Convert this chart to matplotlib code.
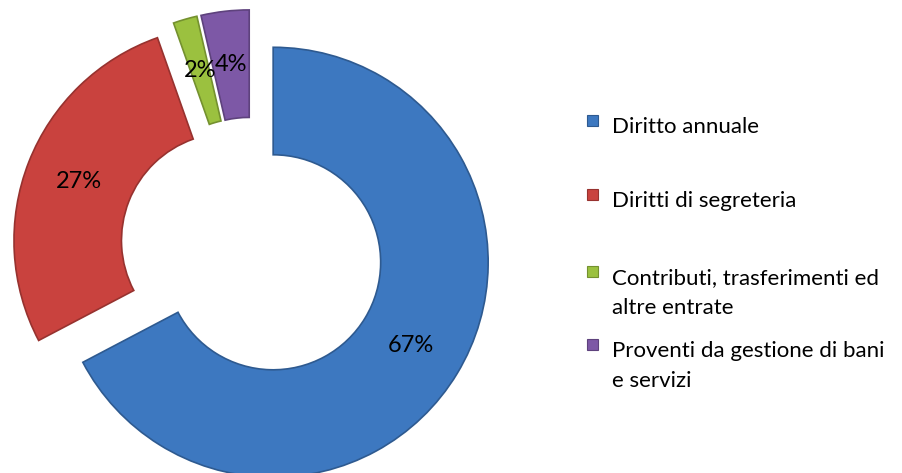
import matplotlib
matplotlib.use("Agg")
from matplotlib import pyplot as plt
from matplotlib.patches import Rectangle
from matplotlib.colors import to_rgb

categories = ["Diritto annuale",
              "Diritti di segreteria",
              "Contributi, trasferimenti ed\naltre entrate",
              "Proventi da gestione di bani\ne servizi"]
# shares (labels show 67, 27, 2, 4)
values = [67.3, 27.3, 1.8, 3.6]
colors = ["#3d78c0", "#c9423e", "#9bc13f", "#7d58a6"]

plt.rcParams['font.family'] = ['Lato', 'DejaVu Sans']


def darker(c, f=0.75):
    r, g, b = to_rgb(c)
    return (r * f, g * f, b * f)


W, H = 902, 473
fig = plt.figure(figsize=(W / 100, H / 100), dpi=100)
ax = fig.add_axes([0, 0, 1, 1])

# donut, all slices pulled out a little (like the excel one)
R = 215.0
cx, cy = 252, 249.5
wedges, texts, autotexts = ax.pie(
    values, colors=colors, startangle=90, counterclock=False,
    explode=[0.115] * len(values), radius=1, autopct="%.0f%%", pctdistance=0.75,
    wedgeprops=dict(width=0.5, linewidth=1.2),
    textprops=dict(fontsize=17, color="black"))
for w, c in zip(wedges, colors):
    w.set_edgecolor(darker(c))

ax.set_xlim(-cx / R, (W - cx) / R)
ax.set_ylim(-(H - cy) / R, cy / R)
ax.set_aspect("auto")
ax.axis("off")

# legend on the right, drawn by hand so the marker sits on the first line
first_baselines = [133, 207, 284, 357]
line_step = 30
for cat, col, yb in zip(categories, colors, first_baselines):
    fig.add_artist(Rectangle((587 / W, 1 - (yb - 7) / H), 11 / W, 11 / H,
                             transform=fig.transFigure, facecolor=col,
                             edgecolor=darker(col), linewidth=0.8))
    nlines = cat.count("\n") + 1
    y_last = yb + (nlines - 1) * line_step
    fig.text(612 / W, 1 - y_last / H, cat, fontsize=16, va="baseline",
             ha="left", linespacing=1.65)

fig.savefig("out.png", dpi=100)
